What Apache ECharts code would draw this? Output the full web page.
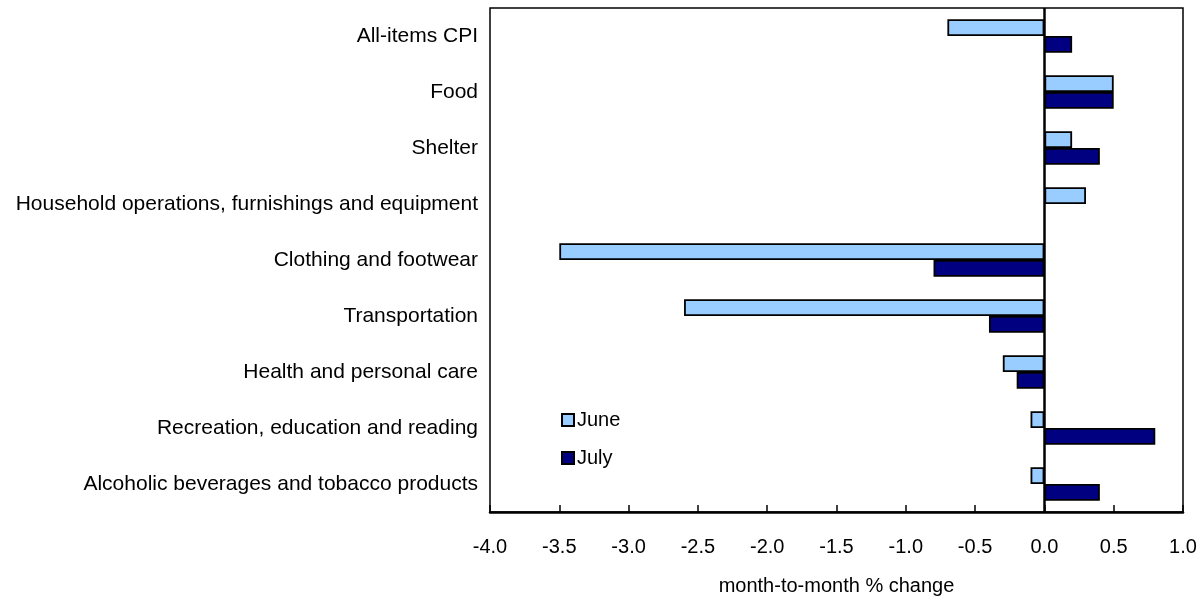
<!DOCTYPE html>
<html>
<head>
<meta charset="utf-8">
<script src="https://cdn.jsdelivr.net/npm/echarts@6/dist/echarts.min.js"></script>
<style>
  html, body { margin: 0; padding: 0; background: #fff; }
  #viz { width: 1201px; height: 601px; }
</style>
</head>
<body>
<div id="viz"></div>
<script>
const categories = [
  'All-items CPI',
  'Food',
  'Shelter',
  'Household operations, furnishings and equipment',
  'Clothing and footwear',
  'Transportation',
  'Health and personal care',
  'Recreation, education and reading',
  'Alcoholic beverages and tobacco products'
]
const june = [-0.7, 0.5, 0.2, 0.3, -3.5, -2.6, -0.3, -0.1, -0.1]
const july = [0.2, 0.5, 0.4, 0.0, -0.8, -0.4, -0.2, 0.8, 0.4]

// zero-valued bars are not drawn in the original
const noZero = (arr) => arr.map((v) => (v === 0 ? '-' : v))

const font = 'Liberation Sans, Arial, Helvetica, sans-serif'
const chart = echarts.init(document.getElementById('viz'))

chart.setOption({
  animation: false,
  textStyle: { fontFamily: font, color: '#000' },
  grid: {
    left: 490, right: 18, top: 8, bottom: 89,
    outerBoundsMode: 'none',
    show: true, borderColor: '#000', borderWidth: 1.5
  },
  legend: {
    orient: 'vertical',
    left: 556, top: 405,
    itemWidth: 12, itemHeight: 12, itemGap: 18,
    icon: 'rect',
    textStyle: { fontSize: 20, color: '#000', padding: [0, 0, 0, -2] },
    data: ['June', 'July']
  },
  xAxis: {
    type: 'value',
    min: -4, max: 1, interval: 0.5,
    name: 'month-to-month % change',
    nameLocation: 'middle',
    nameGap: 64,
    nameTextStyle: { fontSize: 20, color: '#000' },
    axisLine: { show: true, lineStyle: { color: '#000', width: 2.5 } },
    axisTick: { show: true, inside: true, length: 7, lineStyle: { color: '#000', width: 1.5 } },
    axisLabel: { fontSize: 20, color: '#000', margin: 25, formatter: (v) => v.toFixed(1) },
    splitLine: { show: false }
  },
  yAxis: {
    type: 'category',
    inverse: true,
    data: categories,
    axisLine: { show: false },
    axisTick: { show: false },
    axisLabel: { fontSize: 21, color: '#000', margin: 12, padding: [4, 0, 0, 0] }
  },
  series: [
    {
      name: 'June',
      type: 'bar',
      data: noZero(june),
      barGap: '0%',
      barCategoryGap: '40%',
      itemStyle: { color: '#99ccff', borderColor: '#000', borderWidth: 1.8 },
      markLine: {
        silent: true,
        symbol: 'none',
        label: { show: false },
        lineStyle: { color: '#000', width: 2.5, type: 'solid' },
        data: [{ xAxis: 0 }]
      }
    },
    {
      name: 'July',
      type: 'bar',
      data: noZero(july),
      itemStyle: { color: '#000080', borderColor: '#000', borderWidth: 1.8 }
    }
  ]
})
</script>
</body>
</html>
